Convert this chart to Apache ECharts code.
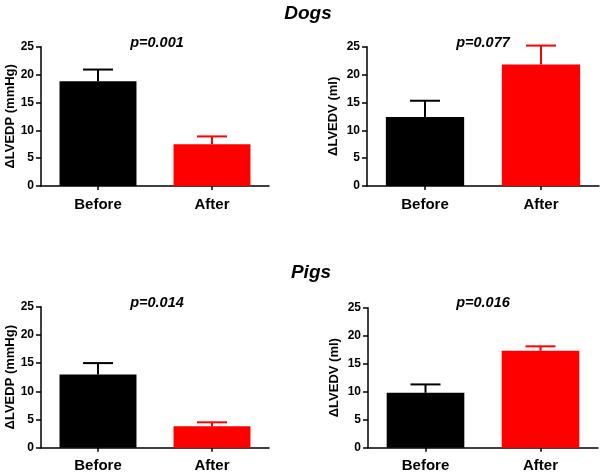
<!DOCTYPE html>
<html><head><meta charset="utf-8">
<script src="https://cdn.jsdelivr.net/npm/echarts@6/dist/echarts.min.js"></script>
<style>html,body{margin:0;padding:0;background:#fff}#c{width:602px;height:475px}</style>
</head><body><div id="c"></div>
<script>
const categories = ['Before', 'After'];
const yTicks = [0, 5, 10, 15, 20, 25];
const dogsLVEDP = [18.8, 7.5];
const dogsLVEDPErr = [2.1, 1.4];
const dogsLVEDV = [12.4, 21.8];
const dogsLVEDVErr = [2.9, 3.4];
const pigsLVEDP = [13.0, 3.8];
const pigsLVEDPErr = [2.0, 0.7];
const pigsLVEDV = [9.8, 17.3];
const pigsLVEDVErr = [1.5, 0.8];
const panelNames = ['ΔLVEDP (mmHg)', 'ΔLVEDV (ml)', 'ΔLVEDP (mmHg)', 'ΔLVEDV (ml)'];
const pValues = ['p=0.001', 'p=0.077', 'p=0.014', 'p=0.016'];
const groupTitles = ['Dogs', 'Pigs'];
const barColors = ['#000000', '#ff0000'];

const FONT = 'Liberation Sans, Arial, sans-serif';
const chart = echarts.init(document.getElementById('c'), null, {renderer: 'canvas'});

const panels = [
  {vals: dogsLVEDP, err: dogsLVEDPErr, grid: {left: 41, top: 46.7, width: 228, height: 139.3}, nameGap: 22},
  {vals: dogsLVEDV, err: dogsLVEDVErr, grid: {left: 367, top: 46.7, width: 232, height: 139.3}, nameGap: 27},
  {vals: pigsLVEDP, err: pigsLVEDPErr, grid: {left: 41, top: 306.7, width: 228, height: 141}, nameGap: 22},
  {vals: pigsLVEDV, err: pigsLVEDVErr, grid: {left: 368, top: 307.7, width: 230, height: 140}, nameGap: 27}
];

const grids = [], xAxes = [], yAxes = [], series = [];
panels.forEach((p, i) => {
  grids.push(Object.assign({containLabel: false}, p.grid));
  xAxes.push({
    type: 'category', gridIndex: i, data: categories,
    axisLine: {lineStyle: {color: '#000', width: 1.5}},
    axisTick: {show: true, alignWithLabel: true, length: 4, lineStyle: {color: '#000', width: 1.5}},
    axisLabel: {color: '#000', fontFamily: FONT, fontWeight: 'bold', fontSize: 15, margin: 11},
    splitLine: {show: false}
  });
  yAxes.push({
    type: 'value', gridIndex: i, min: 0, max: 25, interval: 5,
    axisLine: {show: true, lineStyle: {color: '#000', width: 1.5}},
    axisTick: {show: true, length: 5, lineStyle: {color: '#000', width: 1.5}},
    axisLabel: {color: '#000', fontFamily: FONT, fontWeight: 'bold', fontSize: 12, margin: 7,
      formatter: v => yTicks.includes(v) ? String(v) : ''},
    splitLine: {show: false},
    name: panelNames[i], nameLocation: 'middle', nameRotate: 90,
    nameGap: p.nameGap,
    nameTextStyle: {color: '#000', fontFamily: FONT, fontWeight: 'bold', fontSize: 13}
  });
  series.push({
    type: 'bar', xAxisIndex: i, yAxisIndex: i, barWidth: '67.5%',
    data: p.vals.map((v, k) => ({value: v, itemStyle: {color: barColors[k]}})),
    z: 3, silent: true
  });
  const errData = p.vals.map((v, k) => [k, v, v + p.err[k]]);
  series.push({
    type: 'custom', xAxisIndex: i, yAxisIndex: i, data: errData, z: 2, silent: true,
    renderItem: (params, api) => {
      const k = api.value(0);
      const base = api.coord([k, api.value(1)]);
      const top = api.coord([k, api.value(2)]);
      const col = barColors[k];
      const hw = 15;
      return {type: 'group', children: [
        {type: 'line', shape: {x1: base[0], y1: base[1], x2: top[0], y2: top[1]}, style: {stroke: col, lineWidth: 2}},
        {type: 'line', shape: {x1: top[0] - hw, y1: top[1], x2: top[0] + hw, y2: top[1]}, style: {stroke: col, lineWidth: 2}}
      ]};
    }
  });
});

const titleStyle = {color: '#000', fontFamily: FONT, fontWeight: 'bold', fontStyle: 'italic', fontSize: 19, align: 'center', verticalAlign: 'middle'};
const pStyle = {color: '#000', fontFamily: FONT, fontWeight: 'bold', fontStyle: 'italic', fontSize: 14.5, align: 'center', verticalAlign: 'middle'};
const graphic = [
  {type: 'text', x: 308, y: 14, style: Object.assign({text: groupTitles[0]}, titleStyle)},
  {type: 'text', x: 311, y: 273, style: Object.assign({text: groupTitles[1]}, titleStyle)},
  {type: 'text', x: 157, y: 43, style: Object.assign({text: pValues[0]}, pStyle)},
  {type: 'text', x: 483, y: 43, style: Object.assign({text: pValues[1]}, pStyle)},
  {type: 'text', x: 157, y: 303, style: Object.assign({text: pValues[2]}, pStyle)},
  {type: 'text', x: 483, y: 303, style: Object.assign({text: pValues[3]}, pStyle)}
];

chart.setOption({
  animation: false,
  backgroundColor: '#fff',
  grid: grids, xAxis: xAxes, yAxis: yAxes, series: series, graphic: graphic
});
</script></body></html>
